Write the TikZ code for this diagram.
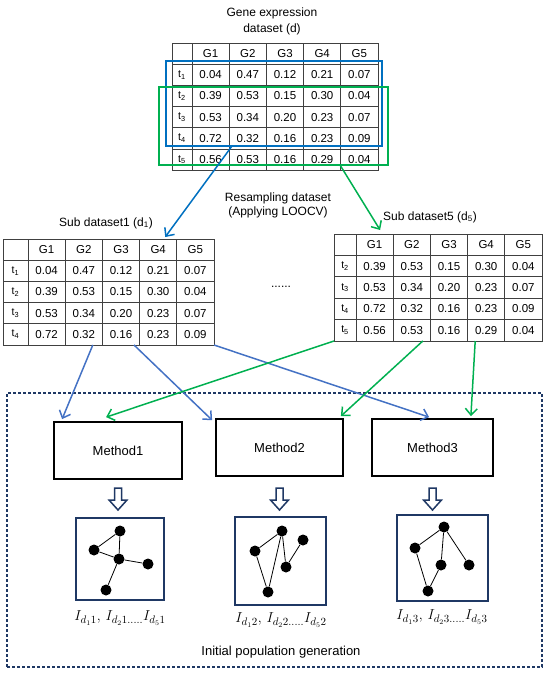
\documentclass[tikz,border=0pt]{standalone}
\usepackage{fontspec}
\setmainfont{Liberation Sans}
\usetikzlibrary{arrows.meta, positioning, calc}
\definecolor{selblue}{RGB}{0,112,192}
\definecolor{linkblue}{RGB}{68,114,196}
\definecolor{linkgreen}{RGB}{0,176,80}
\definecolor{navyline}{RGB}{31,56,100}
\tikzset{
    tcell/.style={rectangle, draw=black!75, line width=0.9pt, inner sep=0pt,
                  outer sep=0pt, anchor=north west, font=\fontsize{11.5}{13}\selectfont},
    tlab/.style={tcell, font=\fontsize{10.5}{12}\selectfont},
    ttitle/.style={align=center, font=\fontsize{12}{16}\selectfont},
    selbox/.style={rectangle, line width=2pt, inner sep=0pt, outer sep=0pt},
    methodbox/.style={rectangle, draw=black, line width=1.8pt, minimum height=57,
                      font=\fontsize{13}{15}\selectfont},
    gbox/.style={rectangle, draw=navyline, line width=1.5pt, inner sep=0pt},
    gdot/.style={circle, fill=black, inner sep=0pt, minimum size=11pt},
    gedge/.style={draw=black, line width=0.8pt},
    linkarrow/.style={-{Straight Barb[length=6.5pt, width=12pt]}, line width=1.5pt},
    hollowarrow/.style={draw=navyline, line width=1.5pt, fill=white, line join=miter},
    popframe/.style={rectangle, draw=navyline, line width=1.2pt, dash pattern=on 3pt off 2pt},
    idlabel/.style={font=\fontsize{15}{17}\selectfont},
}
% #1 name, #2 left, #3 top, #4 first column width, #5 row height, #6 rows
\newcommand{\gtable}[6]{%
    \foreach \lb/\va/\vb/\vc/\vd/\ve [count=\r from 0] in {#6} {
        \node[tlab, minimum width=#4, minimum height=#5] (#1-\r-0) at (#2,#3+#5*\r) {\lb};
        \foreach \v [count=\k] in {\va,\vb,\vc,\vd,\ve}
            \node[tcell, minimum width=37.2, minimum height=#5] (#1-\r-\k)
                at (#2+#4+37.2*\k-37.2,#3+#5*\r) {\v};
    }
}

\begin{document}
\begin{tikzpicture}[x=1pt, y=-1pt]
    \useasboundingbox (0,0) rectangle (550,675);

    % whole dataset
    \node[ttitle] (dtitle) at (272,21) {Gene expression\\dataset (d)};
    \gtable{d}{172}{43}{20}{21.2}{{}/G1/G2/G3/G4/G5,
        t\textsubscript{1}/0.04/0.47/0.12/0.21/0.07,
        t\textsubscript{2}/0.39/0.53/0.15/0.30/0.04,
        t\textsubscript{3}/0.53/0.34/0.20/0.23/0.07,
        t\textsubscript{4}/0.72/0.32/0.16/0.23/0.09,
        t\textsubscript{5}/0.56/0.53/0.16/0.29/0.04}
    \node[selbox, draw=selblue, minimum width=216, minimum height=85] (selA) at (274,103.5) {};
    \node[selbox, draw=linkgreen, minimum width=229, minimum height=78] (selB) at (273.5,126) {};

    \node[ttitle, font=\fontsize{12}{14}\selectfont] (resamp) at (278,205) {Resampling dataset\\(Applying LOOCV)};

    % sub datasets
    \node[ttitle] (s1title) at (106,223) {Sub dataset1 (d\textsubscript{1})};
    \gtable{s1}{3}{239}{25}{21.2}{{}/G1/G2/G3/G4/G5,
        t\textsubscript{1}/0.04/0.47/0.12/0.21/0.07,
        t\textsubscript{2}/0.39/0.53/0.15/0.30/0.04,
        t\textsubscript{3}/0.53/0.34/0.20/0.23/0.07,
        t\textsubscript{4}/0.72/0.32/0.16/0.23/0.09}
    \node[ttitle] (s5title) at (430,217) {Sub dataset5 (d\textsubscript{5})};
    \gtable{s5}{334}{234}{22}{21.4}{{}/G1/G2/G3/G4/G5,
        t\textsubscript{2}/0.39/0.53/0.15/0.30/0.04,
        t\textsubscript{3}/0.53/0.34/0.20/0.23/0.07,
        t\textsubscript{4}/0.72/0.32/0.16/0.23/0.09,
        t\textsubscript{5}/0.56/0.53/0.16/0.29/0.04}
    \node[font=\fontsize{12}{14}\selectfont] (gap) at (281,287) {......};

    \draw[linkarrow, selblue] ([xshift=-42pt]selA.south) -- ([xshift=7pt,yshift=2pt]s1-0-4.north);
    \draw[linkarrow, linkgreen] ([xshift=66.5pt]selB.south) -- ([xshift=5.5pt,yshift=4pt]s5-0-1.north);

    % initial population
    \node[popframe, minimum width=535, minimum height=274] (pop) at (274.5,530) {};
    \node[methodbox, minimum width=128] (m1) at (118,450.5) {Method1};
    \node[methodbox, minimum width=127] (m2) at (279.5,447.5) {Method2};
    \node[methodbox, minimum width=121] (m3) at (432.5,447.5) {Method3};

    \draw[linkarrow, linkblue] ([xshift=9pt]s1-4-2.south) -- ([xshift=9pt,yshift=2pt]m1.north west);
    \draw[linkarrow, linkblue] ([xshift=13pt]s1-4-3.south) -- ([xshift=-3pt,yshift=-2pt]m2.north west);
    \draw[linkarrow, linkblue] (s1-4-5.south east) -- ([xshift=58pt,yshift=1pt]m3.north west);
    \draw[linkarrow, linkgreen] (s5-4-0.south west) -- ([xshift=53pt,yshift=4pt]m1.north west);
    \draw[linkarrow, linkgreen] ([xshift=11pt]s5-4-2.south) -- ([xshift=-3pt,yshift=2pt]m2.north east);
    \draw[linkarrow, linkgreen] ([xshift=-11pt]s5-4-4.south) -- ([xshift=-23pt,yshift=2pt]m3.north east);

    \foreach \m in {m1,m2,m3} {
        \begin{scope}[shift={(\m.south |- 0,488)}]
            \draw[hollowarrow] (-3.5,0) -- (3.5,0) -- (3.5,12) -- (9,12) -- (0,22)
                -- (-9,12) -- (-3.5,12) -- cycle;
        \end{scope}
    }

    % graphs
    \node[gbox, minimum width=88, minimum height=82] (g1) at (120,559) {};
    \node[gdot] (g1a) at (120,531) {};
    \node[gdot] (g1b) at (94,550) {};
    \node[gdot] (g1c) at (119,559) {};
    \node[gdot] (g1d) at (148,564) {};
    \node[gdot] (g1e) at (106,590) {};
    \draw[gedge] (g1a) -- (g1b) (g1a) -- (g1c) (g1b) -- (g1c) (g1c) -- (g1d) (g1c) -- (g1e);

    \node[gbox, minimum width=91, minimum height=88] (g2) at (280.5,561) {};
    \node[gdot] (g2a) at (282,531) {};
    \node[gdot] (g2b) at (255,551) {};
    \node[gdot] (g2c) at (303,540) {};
    \node[gdot] (g2d) at (286,567) {};
    \node[gdot] (g2e) at (268,592) {};
    \draw[gedge] (g2a) -- (g2b) (g2b) -- (g2e) (g2a) -- (g2e) (g2a) -- (g2d) (g2d) -- (g2c);

    \node[gbox, minimum width=91, minimum height=86] (g3) at (442.5,558) {};
    \node[gdot] (g3a) at (444,527) {};
    \node[gdot] (g3b) at (415,548) {};
    \node[gdot] (g3c) at (441,565) {};
    \node[gdot] (g3d) at (469,565) {};
    \node[gdot] (g3e) at (428,591) {};
    \draw[gedge] (g3a) -- (g3b) (g3a) -- (g3c) (g3a) -- (g3d) (g3b) -- (g3e) (g3c) -- (g3e);

    \node[idlabel] (id1) at (120,618) {$I_{d_1 1},\, I_{d_2 1.....}I_{d_5 1}$};
    \node[idlabel] (id2) at (281,620) {$I_{d_1 2},\, I_{d_2 2.....}I_{d_5 2}$};
    \node[idlabel] (id3) at (442,617) {$I_{d_1 3},\, I_{d_2 3.....}I_{d_5 3}$};

    \node[font=\fontsize{13}{15}\selectfont] (poptitle) at (281,652) {Initial population generation};
\end{tikzpicture}
\end{document}
